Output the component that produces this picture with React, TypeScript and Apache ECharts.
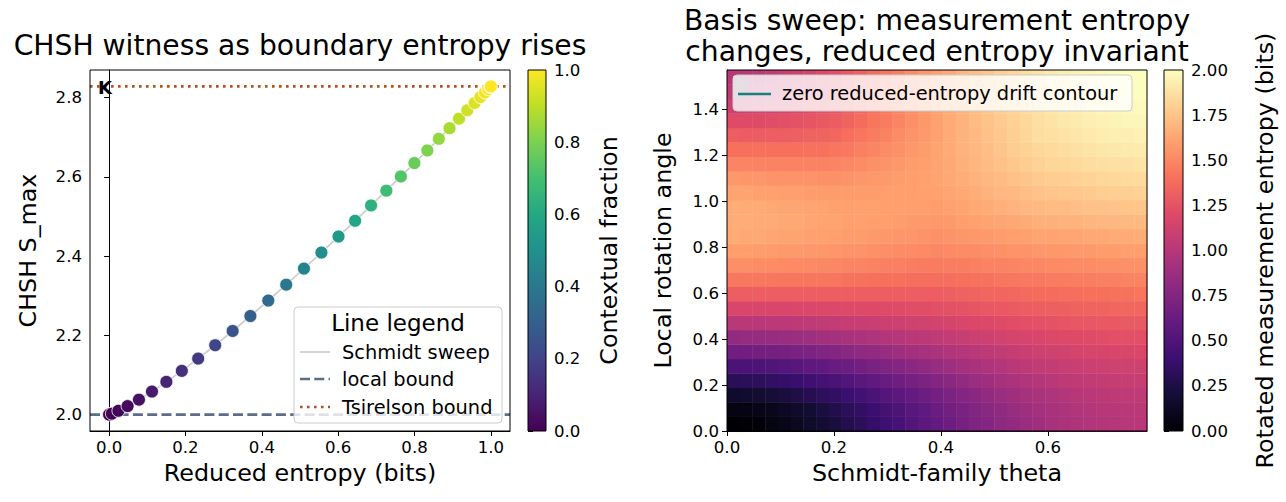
import React, { useEffect, useRef } from "react";
import * as echarts from "echarts";

const FONT = "DejaVu Sans";

// ---------- Left panel: Schmidt sweep (33 states) ----------
const REDUCED_ENTROPY = [
  0, 0.0073, 0.0244, 0.0485, 0.0782, 0.1123, 0.15, 0.1905, 0.2333, 0.2779, 0.3236,
  0.3701, 0.417, 0.4639, 0.5103, 0.5561, 0.6009, 0.6443, 0.6862, 0.7262, 0.7642,
  0.7996, 0.8335, 0.8636, 0.8916, 0.9165, 0.9381, 0.9572, 0.9724, 0.9845, 0.993,
  0.9983, 1.0,
];
const CHSH_SMAX = [
  2.0, 2.0024, 2.0096, 2.0214, 2.0377, 2.0582, 2.0826, 2.1104, 2.1414, 2.1751, 2.2111,
  2.2488, 2.2879, 2.328, 2.3685, 2.4091, 2.4495, 2.4892, 2.5279, 2.5653, 2.601,
  2.6349, 2.6667, 2.6961, 2.7229, 2.747, 2.7682, 2.7864, 2.8014, 2.8132, 2.8216,
  2.8267, 2.8284,
];
const CONTEXTUAL_FRACTION = [
  0, 0.0029, 0.0116, 0.0258, 0.0455, 0.0703, 0.0997, 0.1333, 0.1707, 0.2114, 0.2548,
  0.3003, 0.3475, 0.3959, 0.4448, 0.4938, 0.5425, 0.5904, 0.6372, 0.6823, 0.7254,
  0.7663, 0.8047, 0.8402, 0.8725, 0.9016, 0.9272, 0.9492, 0.9673, 0.9816, 0.9917,
  0.9979, 1.0,
];
const LOCAL_BOUND = 2.0;
const TSIRELSON_BOUND = 2.8284;
const LEFT_X_RANGE = [-0.05, 1.05];
const LEFT_Y_RANGE = [1.9586, 2.8698];
const LEFT_X_TICKS = [0, 0.2, 0.4, 0.6, 0.8, 1.0];
const LEFT_Y_TICKS = [2.0, 2.2, 2.4, 2.6, 2.8];
const CF_TICKS = [0, 0.2, 0.4, 0.6, 0.8, 1.0];
const CF_MAX = 1.0;

// ---------- Right panel: basis sweep heatmap ----------
const THETA_MAX = 0.7854;
const PHI_MAX = 1.5708;
const THETA_TICKS = [0, 0.2, 0.4, 0.6];
const PHI_TICKS = [0, 0.2, 0.4, 0.6, 0.8, 1.0, 1.2, 1.4];
const ENTROPY_TICKS = [0, 0.25, 0.5, 0.75, 1.0, 1.25, 1.5, 1.75, 2.0];
const ENTROPY_MAX = 2.0;
// rows: local rotation angle from 0 (first row) to pi/2 (last row); columns: theta 0 .. pi/4
const MEAS_ENTROPY = [
  [0.00,0.01,0.02,0.05,0.08,0.11,0.15,0.19,0.23,0.28,0.32,0.37,0.42,0.46,0.51,0.56,0.60,0.64,0.69,0.73,0.76,0.80,0.83,0.86,0.89,0.92,0.94,0.96,0.97,0.98,0.99,1.00,1.00],
  [0.05,0.06,0.07,0.10,0.13,0.16,0.19,0.23,0.27,0.32,0.36,0.40,0.45,0.49,0.54,0.58,0.63,0.67,0.71,0.75,0.78,0.82,0.85,0.88,0.91,0.93,0.95,0.97,0.98,1.00,1.00,1.01,1.01],
  [0.16,0.17,0.18,0.21,0.23,0.26,0.29,0.33,0.36,0.40,0.44,0.48,0.52,0.56,0.60,0.64,0.68,0.72,0.76,0.79,0.83,0.86,0.89,0.92,0.94,0.96,0.98,1.00,1.01,1.02,1.03,1.04,1.04],
  [0.31,0.32,0.33,0.35,0.37,0.39,0.42,0.45,0.48,0.51,0.55,0.58,0.62,0.65,0.69,0.72,0.76,0.79,0.83,0.86,0.89,0.92,0.94,0.97,0.99,1.01,1.03,1.04,1.05,1.06,1.07,1.08,1.08],
  [0.48,0.48,0.49,0.50,0.52,0.54,0.57,0.59,0.62,0.64,0.67,0.70,0.73,0.76,0.79,0.82,0.85,0.88,0.91,0.93,0.96,0.98,1.01,1.03,1.05,1.06,1.08,1.09,1.10,1.11,1.12,1.12,1.12],
  [0.66,0.66,0.67,0.68,0.69,0.71,0.72,0.74,0.76,0.78,0.81,0.83,0.85,0.88,0.90,0.92,0.94,0.97,0.99,1.01,1.03,1.05,1.07,1.09,1.11,1.12,1.13,1.15,1.16,1.16,1.17,1.17,1.18],
  [0.83,0.84,0.84,0.85,0.86,0.87,0.88,0.90,0.91,0.93,0.94,0.96,0.98,0.99,1.01,1.02,1.04,1.06,1.08,1.10,1.11,1.13,1.15,1.16,1.17,1.19,1.20,1.20,1.21,1.22,1.23,1.23,1.23],
  [1.01,1.01,1.01,1.02,1.02,1.03,1.04,1.05,1.06,1.07,1.08,1.09,1.10,1.11,1.12,1.13,1.14,1.15,1.17,1.18,1.19,1.21,1.22,1.23,1.24,1.25,1.26,1.27,1.27,1.28,1.28,1.29,1.29],
  [1.17,1.17,1.17,1.17,1.17,1.18,1.18,1.19,1.19,1.20,1.20,1.20,1.21,1.21,1.22,1.22,1.23,1.24,1.25,1.26,1.27,1.28,1.29,1.30,1.31,1.32,1.32,1.33,1.34,1.34,1.35,1.35,1.35],
  [1.31,1.31,1.31,1.31,1.31,1.31,1.31,1.31,1.31,1.31,1.31,1.31,1.31,1.31,1.31,1.31,1.31,1.32,1.33,1.34,1.35,1.35,1.36,1.37,1.38,1.38,1.39,1.39,1.40,1.40,1.41,1.41,1.42],
  [1.43,1.43,1.43,1.43,1.42,1.42,1.42,1.42,1.42,1.41,1.41,1.40,1.40,1.40,1.39,1.39,1.39,1.39,1.40,1.41,1.41,1.42,1.43,1.44,1.44,1.45,1.45,1.46,1.46,1.47,1.47,1.48,1.48],
  [1.53,1.53,1.52,1.52,1.51,1.51,1.51,1.50,1.50,1.49,1.49,1.48,1.47,1.47,1.46,1.45,1.45,1.46,1.46,1.47,1.48,1.48,1.49,1.50,1.50,1.51,1.51,1.52,1.52,1.53,1.53,1.54,1.54],
  [1.60,1.60,1.59,1.59,1.58,1.58,1.57,1.57,1.56,1.55,1.55,1.54,1.53,1.52,1.52,1.51,1.50,1.51,1.52,1.52,1.53,1.54,1.55,1.55,1.56,1.57,1.57,1.58,1.58,1.59,1.59,1.60,1.60],
  [1.65,1.64,1.64,1.63,1.62,1.62,1.61,1.61,1.60,1.59,1.59,1.58,1.57,1.56,1.56,1.55,1.54,1.55,1.56,1.57,1.58,1.59,1.60,1.61,1.62,1.62,1.63,1.63,1.64,1.64,1.65,1.65,1.66],
  [1.66,1.66,1.65,1.65,1.64,1.64,1.63,1.62,1.62,1.61,1.61,1.60,1.60,1.59,1.58,1.58,1.57,1.58,1.60,1.61,1.62,1.63,1.64,1.65,1.67,1.67,1.68,1.68,1.69,1.70,1.70,1.71,1.71],
  [1.66,1.65,1.65,1.64,1.63,1.63,1.62,1.62,1.61,1.61,1.61,1.61,1.60,1.60,1.60,1.60,1.59,1.61,1.62,1.64,1.65,1.67,1.68,1.70,1.71,1.72,1.72,1.73,1.74,1.74,1.75,1.76,1.76],
  [1.62,1.62,1.61,1.61,1.60,1.60,1.59,1.59,1.59,1.59,1.59,1.59,1.60,1.60,1.60,1.61,1.61,1.63,1.64,1.66,1.68,1.70,1.71,1.73,1.75,1.76,1.77,1.77,1.78,1.79,1.80,1.80,1.81],
  [1.57,1.56,1.56,1.55,1.55,1.55,1.55,1.54,1.54,1.55,1.56,1.57,1.58,1.59,1.60,1.61,1.62,1.64,1.66,1.68,1.70,1.72,1.74,1.76,1.78,1.79,1.80,1.81,1.82,1.83,1.84,1.85,1.85],
  [1.49,1.49,1.48,1.48,1.48,1.48,1.48,1.48,1.49,1.50,1.52,1.54,1.55,1.57,1.59,1.60,1.62,1.64,1.67,1.69,1.72,1.74,1.77,1.79,1.81,1.83,1.84,1.85,1.86,1.87,1.88,1.88,1.89],
  [1.40,1.40,1.40,1.40,1.40,1.40,1.41,1.41,1.42,1.44,1.47,1.49,1.52,1.54,1.57,1.59,1.62,1.65,1.68,1.70,1.73,1.76,1.79,1.81,1.84,1.85,1.86,1.88,1.89,1.90,1.91,1.92,1.92],
  [1.31,1.30,1.30,1.31,1.31,1.32,1.33,1.34,1.35,1.39,1.42,1.45,1.48,1.52,1.55,1.58,1.61,1.65,1.68,1.71,1.74,1.77,1.80,1.83,1.86,1.87,1.89,1.90,1.92,1.93,1.94,1.94,1.95],
  [1.21,1.21,1.21,1.22,1.23,1.25,1.26,1.28,1.30,1.34,1.38,1.42,1.45,1.49,1.53,1.57,1.61,1.65,1.68,1.72,1.75,1.78,1.81,1.84,1.87,1.89,1.91,1.92,1.94,1.95,1.96,1.97,1.97],
  [1.11,1.12,1.13,1.14,1.16,1.18,1.21,1.24,1.26,1.31,1.35,1.39,1.43,1.48,1.52,1.56,1.60,1.64,1.68,1.72,1.76,1.79,1.82,1.85,1.88,1.90,1.92,1.94,1.95,1.97,1.98,1.98,1.99],
  [1.04,1.04,1.06,1.08,1.11,1.14,1.17,1.20,1.24,1.28,1.33,1.38,1.42,1.47,1.51,1.56,1.60,1.64,1.68,1.72,1.76,1.80,1.83,1.86,1.89,1.91,1.93,1.95,1.97,1.98,1.99,1.99,2.00],
  [1.00,1.01,1.02,1.05,1.08,1.11,1.15,1.19,1.23,1.28,1.32,1.37,1.42,1.46,1.51,1.56,1.60,1.64,1.69,1.73,1.76,1.80,1.83,1.86,1.89,1.92,1.94,1.96,1.97,1.98,1.99,2.00,2.00],
];

const VIRIDIS = ["#440154", "#482475", "#414487", "#355f8d", "#2a788e", "#21918c", "#22a884", "#44bf70", "#7ad151", "#bddf26", "#fde725"];
const MAGMA = ["#000004", "#140e36", "#3b0f70", "#641a80", "#8c2981", "#b73779", "#de4968", "#f7705c", "#fe9f6d", "#fecf92", "#fcfdbf"];

const TICK_FS = 16.6;
const LABEL_FS = 23.8;
const TITLE_FS = 28.2;
const LEGEND_FS = 19.4;

function buildOption() {
  const NCOLS = MEAS_ENTROPY[0].length;
  const NROWS = MEAS_ENTROPY.length;
  const CELL_W = THETA_MAX / NCOLS;
  const CELL_H = PHI_MAX / NROWS;
  const heatData: number[][] = [];
  MEAS_ENTROPY.forEach((row, k) =>
    row.forEach((v, j) => heatData.push([j * CELL_W, k * CELL_H, v]))
  );
  const scatterData = REDUCED_ENTROPY.map((x, i) => [x, CHSH_SMAX[i], CONTEXTUAL_FRACTION[i]]);
  const sweepData = REDUCED_ENTROPY.map((x, i) => [x, CHSH_SMAX[i]]);

  const grids = [
    { left: 90, top: 70, width: 420, height: 361 },
    { left: 727, top: 70, width: 420, height: 361 },
    { left: 528, top: 70, width: 18, height: 361 },
    { left: 1164, top: 70, width: 19, height: 361 },
  ];

  const tick = (vals: number[]) => ({
    show: true,
    inside: false,
    length: 5,
    lineStyle: { color: "#000", width: 1 },
    customValues: vals,
  });
  const lab = (vals: number[], digits: number, margin = 8) => ({
    show: true,
    customValues: vals,
    formatter: (v: number) => Number(v).toFixed(digits),
    fontSize: TICK_FS,
    fontFamily: FONT,
    color: "#000",
    margin,
  });
  const nameStyle = { fontSize: LABEL_FS, fontFamily: FONT, color: "#000" };
  const line = { show: true, lineStyle: { color: "#000", width: 1 } };

  const gradient = (cols: string[]) =>
    new echarts.graphic.LinearGradient(
      0, 1, 0, 0,
      cols.map((c, i) => ({ offset: i / (cols.length - 1), color: c }))
    );

  const colorbar = (xi: number, max: number, cols: string[]) => ({
    type: "custom",
    xAxisIndex: xi,
    yAxisIndex: xi,
    data: [[0, 0]],
    encode: { x: 0, y: 1 },
    silent: true,
    renderItem: (_p: any, api: any) => {
      const a = api.coord([0, max]);
      const b = api.coord([1, 0]);
      return {
        type: "rect",
        shape: { x: a[0], y: a[1], width: b[0] - a[0], height: b[1] - a[1] },
        style: { fill: gradient(cols), stroke: "#000", lineWidth: 1 },
      };
    },
  });

  const txt = (text: string, x: number, y: number, fs: number, align = "left", weight = "normal") => ({
    type: "text",
    x,
    y,
    z: 100,
    style: {
      text,
      fontSize: fs,
      fontFamily: FONT,
      fontWeight: weight,
      fill: "#000",
      align,
      textAlign: align,
      verticalAlign: "middle",
      textVerticalAlign: "middle",
    },
  });
  const hline = (x1: number, x2: number, y: number, color: string, w: number, dash?: number[]) => ({
    type: "line",
    z: 100,
    shape: { x1, y1: y, x2, y2: y },
    style: { stroke: color, lineWidth: w, lineDash: dash || null },
  });

  return {
    animation: false,
    backgroundColor: "#fff",
    textStyle: { fontFamily: FONT },
    grid: grids.map((g) => ({ ...g, show: false, containLabel: false, outerBoundsMode: "none" })),
    xAxis: [
      {
        type: "value", gridIndex: 0, min: LEFT_X_RANGE[0], max: LEFT_X_RANGE[1],
        axisLine: line, axisTick: tick(LEFT_X_TICKS), axisLabel: lab(LEFT_X_TICKS, 1),
        splitLine: { show: false },
        name: "Reduced entropy (bits)", nameLocation: "middle", nameGap: 30, nameTextStyle: nameStyle,
      },
      {
        type: "value", gridIndex: 1, min: 0, max: THETA_MAX,
        axisLine: line, axisTick: tick(THETA_TICKS), axisLabel: lab(THETA_TICKS, 1),
        splitLine: { show: false },
        name: "Schmidt-family theta", nameLocation: "middle", nameGap: 30, nameTextStyle: nameStyle,
      },
      { type: "value", gridIndex: 2, min: 0, max: 1, show: false },
      { type: "value", gridIndex: 3, min: 0, max: 1, show: false },
    ],
    yAxis: [
      {
        type: "value", gridIndex: 0, min: LEFT_Y_RANGE[0], max: LEFT_Y_RANGE[1],
        axisLine: line, axisTick: tick(LEFT_Y_TICKS), axisLabel: lab(LEFT_Y_TICKS, 1),
        splitLine: { show: false },
        name: "CHSH S_max", nameLocation: "middle", nameGap: 50, nameRotate: 90, nameTextStyle: nameStyle,
      },
      {
        type: "value", gridIndex: 1, min: 0, max: PHI_MAX,
        axisLine: line, axisTick: tick(PHI_TICKS), axisLabel: lab(PHI_TICKS, 1),
        splitLine: { show: false },
        name: "Local rotation angle", nameLocation: "middle", nameGap: 52, nameRotate: 90, nameTextStyle: nameStyle,
      },
      {
        type: "value", gridIndex: 2, min: 0, max: CF_MAX, position: "right",
        axisLine: { show: false }, axisTick: tick(CF_TICKS), axisLabel: lab(CF_TICKS, 1),
        splitLine: { show: false },
        name: "Contextual fraction", nameLocation: "middle", nameGap: 51, nameRotate: 90, nameTextStyle: nameStyle,
      },
      {
        type: "value", gridIndex: 3, min: 0, max: ENTROPY_MAX, position: "right",
        axisLine: { show: false }, axisTick: tick(ENTROPY_TICKS), axisLabel: lab(ENTROPY_TICKS, 2),
        splitLine: { show: false },
        name: "Rotated measurement entropy (bits)", nameLocation: "middle", nameGap: 70, nameRotate: 90, nameTextStyle: nameStyle,
      },
    ],
    visualMap: [
      { type: "continuous", show: false, seriesIndex: 3, dimension: 2, min: 0, max: CF_MAX, inRange: { color: VIRIDIS } },
      { type: "continuous", show: false, seriesIndex: 4, dimension: 2, min: 0, max: ENTROPY_MAX, inRange: { color: MAGMA } },
    ],
    series: [
      {
        name: "local bound", type: "line", xAxisIndex: 0, yAxisIndex: 0, symbol: "none",
        data: [[LEFT_X_RANGE[0], LOCAL_BOUND], [LEFT_X_RANGE[1], LOCAL_BOUND]],
        lineStyle: { color: "#5b6d88", width: 2.6, type: [10, 4.3] }, z: 1,
      },
      {
        name: "Tsirelson bound", type: "line", xAxisIndex: 0, yAxisIndex: 0, symbol: "none",
        data: [[LEFT_X_RANGE[0], TSIRELSON_BOUND], [LEFT_X_RANGE[1], TSIRELSON_BOUND]],
        lineStyle: { color: "#b0521f", width: 2.6, type: [2.6, 4.4] }, z: 1,
      },
      {
        name: "Schmidt sweep", type: "line", xAxisIndex: 0, yAxisIndex: 0, symbol: "none",
        data: sweepData, lineStyle: { color: "#cfcfcf", width: 1.8 }, z: 2,
      },
      {
        name: "states", type: "scatter", xAxisIndex: 0, yAxisIndex: 0,
        data: scatterData, symbolSize: 13,
        itemStyle: { borderColor: "#ffffff", borderWidth: 0.8, opacity: 1 }, z: 3,
      },
      {
        name: "measurement entropy", type: "custom", xAxisIndex: 1, yAxisIndex: 1,
        data: heatData, encode: { x: 0, y: 1 }, silent: true,
        renderItem: (_p: any, api: any) => {
          const x0 = api.value(0);
          const y0 = api.value(1);
          const a = api.coord([x0, y0 + CELL_H]);
          const b = api.coord([x0 + CELL_W, y0]);
          return {
            type: "rect",
            shape: { x: a[0], y: a[1], width: b[0] - a[0] + 0.4, height: b[1] - a[1] + 0.4 },
            style: { fill: api.visual("color"), stroke: null },
          };
        },
      },
      colorbar(2, CF_MAX, VIRIDIS),
      colorbar(3, ENTROPY_MAX, MAGMA),
    ],
    graphic: [
      // plot frames
      { type: "rect", z: 90, shape: { x: 90, y: 70, width: 420, height: 361 }, style: { fill: null, stroke: "#000", lineWidth: 1 } },
      { type: "rect", z: 90, shape: { x: 727, y: 70, width: 420, height: 361 }, style: { fill: null, stroke: "#000", lineWidth: 1 } },
      // titles
      txt("CHSH witness as boundary entropy rises", 300, 45.5, TITLE_FS, "center"),
      txt("Basis sweep: measurement entropy", 937, 20, TITLE_FS, "center"),
      txt("changes, reduced entropy invariant", 937, 51, TITLE_FS, "center"),
      // panel tag
      txt("K", 98, 87, 18, "left", "bold"),
      // left legend
      { type: "rect", z: 95, shape: { x: 294, y: 307, width: 208, height: 116, r: 4 }, style: { fill: "rgba(255,255,255,0.8)", stroke: "#cccccc", lineWidth: 1 } },
      txt("Line legend", 398, 323, 23, "center"),
      hline(300, 330, 352, "#cfcfcf", 1.8),
      txt("Schmidt sweep", 342, 352, LEGEND_FS),
      hline(300, 330, 379, "#5b6d88", 2.6, [10, 4.3]),
      txt("local bound", 342, 379, LEGEND_FS),
      hline(300, 330, 407, "#b0521f", 2.6, [2.6, 4.4]),
      txt("Tsirelson bound", 342, 407, LEGEND_FS),
      // right legend
      { type: "rect", z: 95, shape: { x: 733, y: 75, width: 399, height: 36, r: 4 }, style: { fill: "rgba(255,255,255,0.8)", stroke: "#cccccc", lineWidth: 1 } },
      { type: "rect", z: 96, shape: { x: 733, y: 76, width: 15, height: 23 }, style: { fill: "rgba(225,225,225,0.7)", stroke: null } },
      hline(738, 771, 94, "#1b7f7d", 2.6),
      txt("zero reduced-entropy drift contour", 782, 93, LEGEND_FS),
    ],
  };
}

export default function App() {
  const ref = useRef<HTMLDivElement>(null);
  useEffect(() => {
    if (!ref.current) return;
    const chart = echarts.init(ref.current, null, { renderer: "svg" });
    chart.setOption(buildOption() as any);
    return () => chart.dispose();
  }, []);
  return (
    <div
      ref={ref}
      style={{ position: "fixed", left: 0, top: 0, width: 1286, height: 502, background: "#fff" }}
    />
  );
}
